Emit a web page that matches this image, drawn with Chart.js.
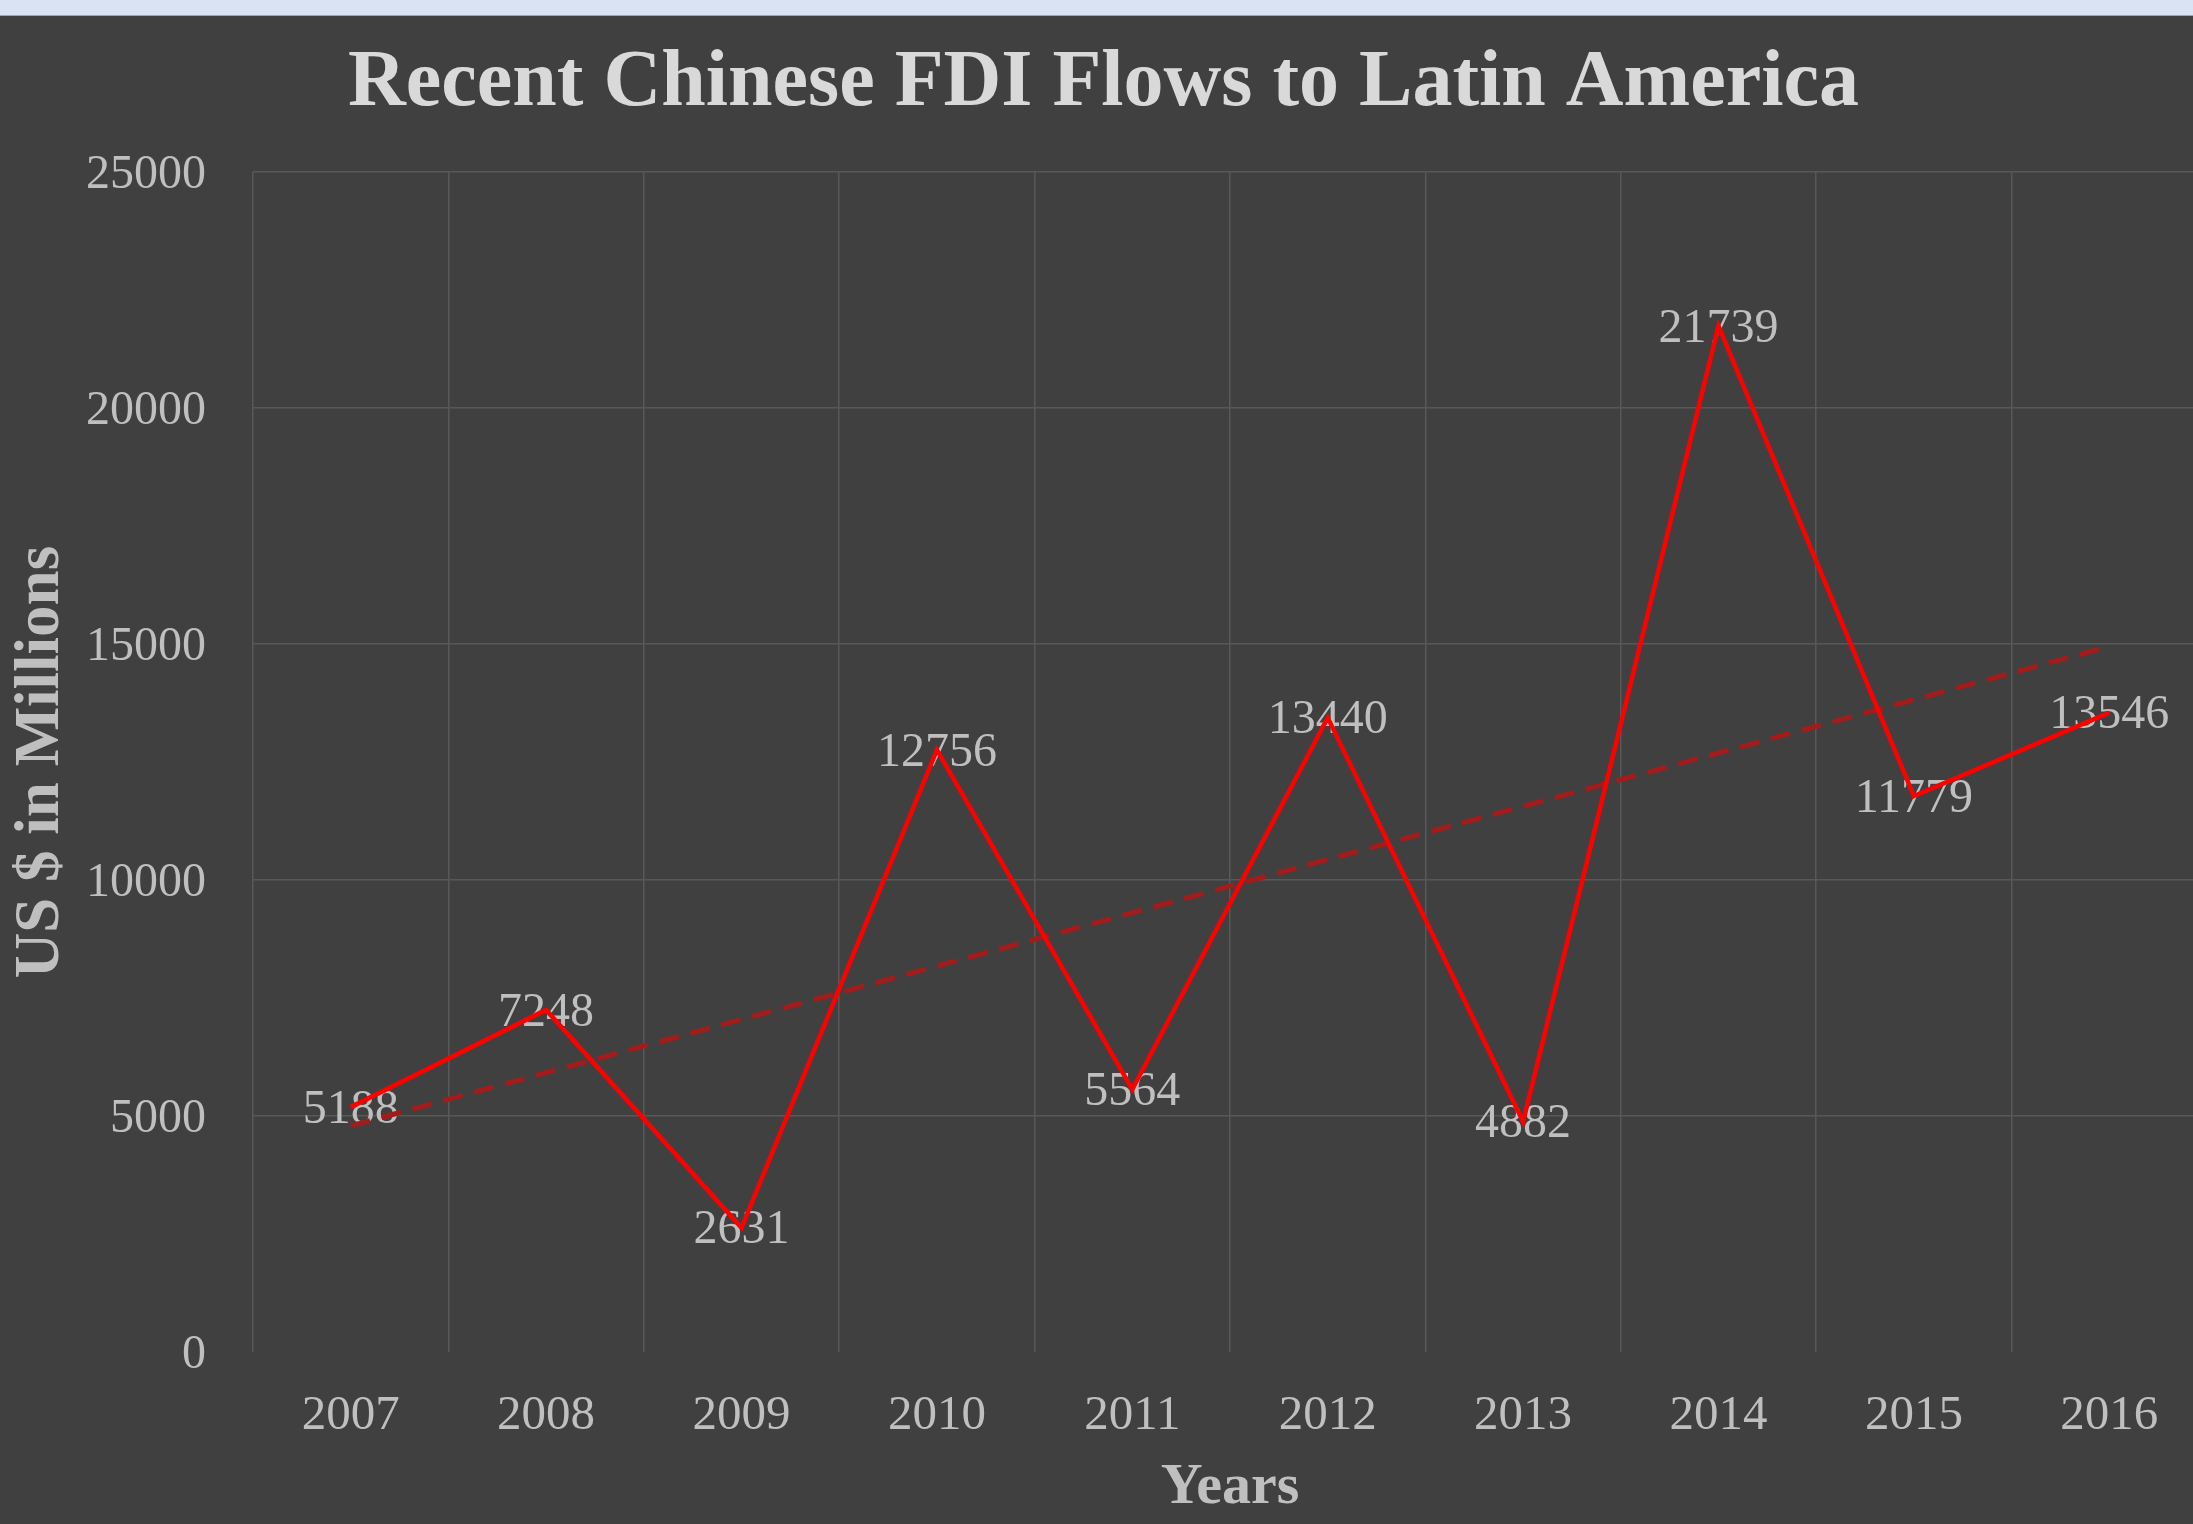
<!DOCTYPE html>
<html>
<head>
<meta charset="utf-8">
<title>Recent Chinese FDI Flows to Latin America</title>
<script src="https://cdn.jsdelivr.net/npm/chart.js@4"></script>
<style>
  html, body { margin: 0; padding: 0; background: #404040; overflow: hidden; }
  #band { height: 15px; background: #dae3f3; border-bottom: 1px solid #a6a6a6; }
  #wrap { position: absolute; top: 16px; left: 0; width: 2193px; height: 1508px; overflow: hidden; }
  #chart { display: block; }
</style>
</head>
<body>
<div id="band"></div>
<div id="wrap"><canvas id="chart" width="2240" height="1508"></canvas></div>
<script>
// data
const years = ['2007', '2008', '2009', '2010', '2011', '2012', '2013', '2014', '2015', '2016'];
const fdiFlows = [5188, 7248, 2631, 12756, 5564, 13440, 4882, 21739, 11779, 13546];
const trendEnds = [4790, 14950];   // dashed trendline, value at first and last year
const yTicks = [0, 5000, 10000, 15000, 20000, 25000];

const FONT = 'Liberation Serif';
const textGrey = '#bfbfbf';

const trendData = years.map((y, i) => i === 0 ? trendEnds[0] : (i === years.length - 1 ? trendEnds[1] : null));

// value labels centred on each point, drawn under the lines
const pointLabels = {
  id: 'pointLabels',
  beforeDatasetsDraw(chart) {
    const meta = chart.getDatasetMeta(0);
    const ctx = chart.ctx;
    ctx.save();
    ctx.font = `48px "${FONT}"`;
    ctx.fillStyle = textGrey;
    ctx.textAlign = 'center';
    ctx.textBaseline = 'middle';
    meta.data.forEach((pt, i) => {
      ctx.fillText(String(fdiFlows[i]), pt.x, pt.y + 3);
    });
    ctx.restore();
  },
};

new Chart(document.getElementById('chart'), {
  type: 'line',
  data: {
    labels: years,
    datasets: [
      {
        label: 'FDI',
        data: fdiFlows,
        borderColor: '#ff0000',
        borderWidth: 4.5,
        pointRadius: 0,
        tension: 0,
        fill: false,
      },
      {
        label: 'Trend',
        data: trendData,
        spanGaps: true,
        borderColor: '#a31c1c',
        borderWidth: 5,
        borderDash: [20, 12],
        pointRadius: 0,
        tension: 0,
        fill: false,
      },
    ],
  },
  options: {
    responsive: false,
    animation: false,
    layout: { padding: { left: 0, top: 0, right: 33, bottom: 0 } },
    plugins: {
      legend: { display: false },
      tooltip: { enabled: false },
      title: {
        display: true,
        text: 'Recent Chinese FDI Flows to Latin America',
        color: '#d9d9d9',
        font: { family: FONT, size: 80, weight: 'bold', lineHeight: 1.2 },
        padding: { top: 20, bottom: 40 },
      },
    },
    scales: {
      x: {
        type: 'category',
        offset: true,
        grid: { offset: true, color: '#585858', lineWidth: 1.5, drawTicks: false },
        border: { display: false },
        ticks: { color: textGrey, font: { family: FONT, size: 49 }, padding: 35, maxRotation: 0 },
        title: {
          display: true,
          text: 'Years',
          color: textGrey,
          font: { family: FONT, size: 58, weight: 'bold', lineHeight: 1.2 },
          padding: { top: 0, bottom: 1 },
        },
        afterFit(scale) { scale.height = 172; },
      },
      y: {
        min: 0,
        max: 25000,
        afterBuildTicks(scale) { scale.ticks = yTicks.map(v => ({ value: v })); },
        grid: {
          color: (c) => c.tick && c.tick.value === 0 ? 'rgba(0,0,0,0)' : '#585858',
          lineWidth: 1.5,
          drawTicks: false,
        },
        border: { display: false },
        ticks: {
          color: textGrey,
          font: { family: FONT, size: 48 },
          padding: 47,
          labelOffset: 3,
          callback: (v) => String(v),
        },
        title: {
          display: true,
          text: 'US $ in Millions',
          color: textGrey,
          font: { family: FONT, size: 63, weight: 'bold', lineHeight: 1.2 },
          padding: { top: 4, bottom: 0 },
        },
        afterFit(scale) { scale.width = 253; },
      },
    },
  },
  plugins: [pointLabels],
});
</script>
</body>
</html>
